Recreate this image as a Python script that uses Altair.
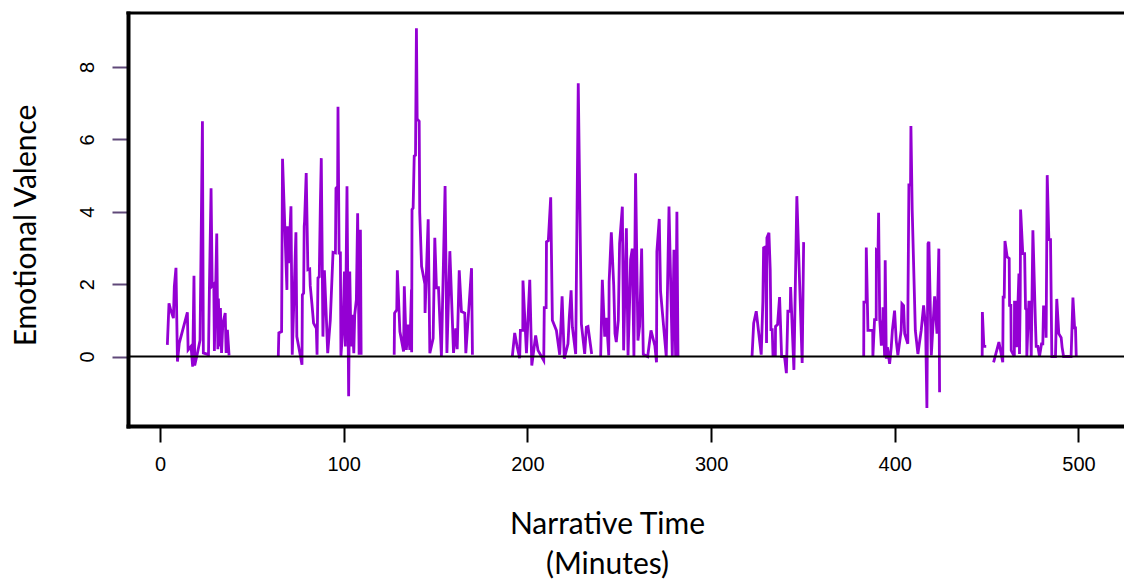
import altair as alt
import pandas as pd

# ---- data: narrative time (minutes) and emotional valence, one list pair per episode ----
ep1_t = [4.0, 4.9, 5.8, 7.3, 7.8, 8.7, 9.5, 10.5, 14.9, 15.3, 16.9, 17.8, 18.5, 18.9, 20.4, 21.8,
         23.1, 23.6, 26.4, 26.9, 27.8, 28.4, 29.3, 29.6, 30.9, 31.5, 31.8, 32.4, 32.9, 33.5, 34.2,
         35.5, 36.0, 36.7, 37.6]
ep1_v = [0.32, 1.47, 1.29, 1.06, 1.94, 2.45, -0.14, 0.37, 1.22, 0.18, 0.28, -0.28, 2.23, -0.25, 0.1, 0.45,
         6.5, 0.1, 0.05, 1.9, 4.65, 1.95, 2.0, 0.15, 3.4, 0.2, 1.6, 0.28, 1.34, 0.1, 0.9,
         1.2, 0.1, 0.74, 0.03]

ep2_t = [64.4, 64.7, 66.2, 66.7, 69.1, 69.3, 70.0, 71.3, 72.0, 74.0, 74.5, 77.3, 77.5, 78.2, 78.5, 78.7,
         79.6, 80.5, 81.5, 81.8, 82.7, 83.6, 85.1, 85.5, 86.0, 86.7, 87.3, 87.8, 88.7, 89.5, 90.5,
         91.3, 92.7, 94.2, 95.5, 95.8, 96.7, 96.9, 97.5, 98.2, 98.5, 99.6, 100.4, 100.9, 101.8,
         102.7, 103.3, 104.0, 104.7, 105.5, 106.0, 106.9, 107.6, 108.4, 109.1, 109.5]
ep2_v = [0.0, 0.65, 0.69, 5.46, 1.84, 3.6, 2.58, 4.15, 0.05, 3.43, 0.55, -0.23, 1.7, 1.75, 3.6, 3.73,
         5.07, 2.4, 2.42, 1.95, 1.46, 0.92, 0.78, 0.05, 2.17, 2.2, 4.2, 5.48, 0.55, 2.38, 1.15,
         0.09, 1.0, 2.88, 2.86, 4.65, 4.7, 6.9, 2.86, 2.86, 0.02, 0.83, 2.35, 0.28, 4.7,
         -1.1, 2.35, 0.28, 1.15, 0.09, 1.15, 1.57, 3.96, 0.05, 3.5, 0.05]

ep3_t = [127.5, 127.7, 128.9, 129.2, 130.6, 132.6, 133.0, 134.1, 135.1, 136.0, 136.9, 137.0, 137.2,
         137.8, 138.4, 139.1, 139.6, 140.0, 141.1, 141.4, 142.4, 144.2, 144.3, 146.0, 146.9, 148.7,
         149.6, 150.5, 151.6, 153.2, 155.2, 156.2, 157.8, 159.8, 161.0, 161.8, 162.9, 164.1, 165.9,
         166.5, 169.6, 170.1]
ep3_v = [0.05, 1.2, 1.29, 2.38, 0.69, 0.14, 1.94, 0.18, 0.88, 0.18, 1.84, 0.12, 4.06,
         4.1, 5.54, 5.56, 9.07, 6.56, 6.5, 3.97, 2.49, 2.0, 1.2, 3.79, 0.09, 0.5,
         3.28, 1.9, 1.9, 0.0, 4.71, 0.1, 2.91, 0.1, 0.78, 0.2, 2.38, 1.24, 1.2,
         0.09, 2.44, 0.05]

ep4_t = [191.8, 193.1, 194.4, 195.8, 196.2, 197.5, 197.6, 199.5, 201.3, 202.4, 204.5, 205.8, 208.9,
         209.2, 210.2, 210.4, 211.4, 212.7, 213.6, 215.8, 217.6, 218.9, 220.1, 222.1, 222.8, 223.8,
         224.5, 226.3, 227.7, 229.4, 231.2, 232.1, 233.0, 235.0]
ep4_v = [0.0, 0.65, 0.28, -0.05, 0.72, 0.72, 2.1, 0.09, 2.12, -0.25, 0.58, 0.17, -0.11,
         1.35, 1.35, 3.17, 3.2, 4.4, 1.0, 0.72, 0.05, 1.66, -0.06, 0.35, 1.07, 1.83,
         0.81, 0.07, 7.55, 0.9, 0.07, 0.81, 0.83, 0.07]

ep5_t = [239.9, 240.8, 242.1, 243.0, 244.3, 244.5, 245.7, 247.0, 247.7, 248.4, 249.5, 250.2, 251.7,
         252.4, 253.9, 254.8, 255.7, 256.2, 257.1, 258.0, 258.9, 260.2, 261.1, 262.2, 263.1, 265.5,
         267.3, 269.4, 270.3, 270.5, 271.8, 272.5, 275.6, 277.1, 278.9, 279.8, 280.7, 281.4, 282.0]
ep5_v = [0.0, 2.12, 0.55, 1.07, 0.03, 2.06, 3.43, 1.97, 0.63, 0.4, 1.0, 3.12, 4.14,
         0.17, 3.54, 0.03, 1.6, 2.68, 2.98, 0.0, 5.06, 0.44, 0.83, 2.98, 0.06, 0.0,
         0.72, 0.3, -0.16, 2.9, 3.8, 1.8, 0.0, 4.14, 0.0, 2.95, 0.0, 4.0, 0.0]

ep6_t = [322.3, 323.2, 324.6, 327.3, 328.2, 328.6, 329.7, 330.2, 330.4, 331.5, 332.2, 332.6, 333.3,
         333.7, 335.0, 335.1, 336.2, 337.3, 338.4, 340.0, 341.0, 341.8, 343.1, 343.3, 345.1, 346.7,
         349.6, 350.4]
ep6_v = [0.0, 0.92, 1.25, 0.05, 1.52, 3.0, 3.03, 0.37, 3.28, 3.42, 2.4, 0.74, 0.74,
         0.05, 0.05, 0.83, 0.88, 1.64, 0.0, 0.0, -0.46, 1.25, 1.25, 1.92, -0.37, 4.43,
         -0.18, 3.16]

ep7_t = [383.1, 383.2, 384.4, 384.5, 385.4, 388.0, 388.1, 389.0, 389.9, 390.0, 390.9, 391.2, 391.8,
         392.7, 393.5, 393.6, 394.5, 394.8, 395.4, 396.0, 397.2, 398.1, 398.7, 399.9, 400.8, 401.7,
         403.5, 403.9, 404.8, 405.4, 407.1, 407.2, 407.7, 408.6, 408.8, 409.5, 411.2, 412.6, 414.4,
         415.7, 416.8, 417.5, 418.1, 418.6, 419.9, 421.7, 423.0, 424.0, 424.4]
ep7_v = [0.0, 1.5, 1.5, 3.01, 0.72, 0.72, 0.0, 1.02, 1.02, 2.94, 2.9, 3.97, 1.04,
         0.3, 1.04, 1.36, -0.02, 2.66, -0.06, 0.26, -0.2, 0.26, 0.72, 1.27, 0.44, 0.03,
         0.72, 1.46, 1.41, 0.63, 0.35, 1.57, 4.74, 4.74, 6.37, 4.04, 0.72, 0.07, 0.72,
         1.41, 0.81, -1.42, 3.12, 3.17, 0.03, 1.66, 0.63, 2.98, -0.99]

ep8_t = [447.6, 447.7, 448.5, 449.8]
ep8_v = [0.0, 1.23, 0.28, 0.28]

ep9_t = [453.8, 456.7, 458.8, 459.0, 459.6, 460.0, 461.2, 462.3, 462.5, 463.2, 463.4, 465.1, 465.2,
         466.1, 466.3, 467.6, 467.9, 468.3, 468.5, 469.7, 470.7, 471.2, 471.8, 471.9, 473.0, 473.7,
         474.3, 475.2, 476.6, 477.0, 477.9, 478.8, 479.9, 480.6, 481.0, 482.1, 482.4, 483.0, 483.9,
         484.8, 485.5, 487.5, 488.2, 489.3, 490.6, 491.1, 491.9, 496.0, 497.0, 497.9, 498.4, 498.8]
ep9_v = [-0.16, 0.4, -0.16, 1.64, 1.64, 3.19, 2.75, 2.71, 1.41, 1.41, 0.17, 0.0, 1.5,
         1.5, 0.26, 2.29, 0.07, 1.64, 4.06, 2.84, 2.84, 1.32, 1.29, 0.0, 1.5, 1.5,
         0.0, 3.49, 0.9, 0.28, 0.28, 0.0, 0.35, 0.35, 1.37, 1.37, 0.52, 5.01, 3.23,
         3.23, 0.0, 0.0, 1.59, 0.63, 0.52, 0.26, 0.0, 0.0, 1.63, 0.79, 0.79, 0.0]

x_ticks = [0, 100, 200, 300, 400, 500]
y_ticks = [0, 2, 4, 6, 8]

episodes = [(ep1_t, ep1_v), (ep2_t, ep2_v), (ep3_t, ep3_v), (ep4_t, ep4_v), (ep5_t, ep5_v),
            (ep6_t, ep6_v), (ep7_t, ep7_v), (ep8_t, ep8_v), (ep9_t, ep9_v)]
rows = []
for i, (ts, vs) in enumerate(episodes):
    for j, (t, v) in enumerate(zip(ts, vs)):
        rows.append({"t": t, "v": v, "ep": i, "ord": j})
df = pd.DataFrame(rows)

W, H = 996, 413
x_scale = alt.Scale(domain=[-17.42, 524.8], nice=False, zero=False)
y_scale = alt.Scale(domain=[-1.92, 9.49], nice=False, zero=False)

TICK_FONT = "Liberation Sans"
TITLE_FONT = "Lato"

x_axis = alt.Axis(
    values=x_ticks, grid=False, domainColor="black", domainWidth=4, domainCap="square",
    tickColor="black", tickWidth=2, tickSize=16,
    labelFont=TICK_FONT, labelFontSize=20, labelColor="black", labelPadding=12,
    title=["Narrative Time", "(Minutes)"], titleFont=TITLE_FONT, titleFontSize=30,
    titleFontWeight="normal", titleColor="black", titleLineHeight=40,
    titleX=479, titleY=107, titleAlign="center", titleBaseline="alphabetic",
)
y_axis = alt.Axis(
    values=y_ticks, grid=False, domainColor="black", domainWidth=4, domainCap="square",
    tickColor="#5f4878", tickWidth=2, tickSize=16,
    labelFont=TICK_FONT, labelFontSize=20, labelColor="black", labelPadding=15,
    labelAngle=270, labelAlign="center", labelBaseline="bottom",
    title="Emotional Valence", titleFont=TITLE_FONT, titleFontSize=30,
    titleFontWeight="normal", titleColor="black", titleAngle=270,
    titleX=-102, titleY=212, titleAlign="center", titleBaseline="middle",
)

line = alt.Chart(df).mark_line(color="#9400D3", strokeWidth=2.8, clip=True).encode(
    x=alt.X("t:Q", scale=x_scale, axis=x_axis),
    y=alt.Y("v:Q", scale=y_scale, axis=y_axis),
    detail="ep:N",
    order="ord:Q",
)

zero = alt.Chart(pd.DataFrame({"y": [0]})).mark_rule(color="black", strokeWidth=2.2).encode(
    y=alt.Y("y:Q", scale=y_scale)
)

top_border = alt.Chart(pd.DataFrame({"y": [0]})).mark_rule(
    color="black", strokeWidth=3.2, strokeCap="square"
).encode(x=alt.value(0), x2=alt.value(W), y=alt.value(0))

chart = alt.layer(line, zero, top_border).properties(
    width=W, height=H,
    padding={"left": 120, "top": 5, "right": 0, "bottom": 153},
    autosize=alt.AutoSizeParams(type="none"),
).configure_view(stroke=None)

chart.save("out.html", embed_options={"renderer": "svg", "actions": False})
